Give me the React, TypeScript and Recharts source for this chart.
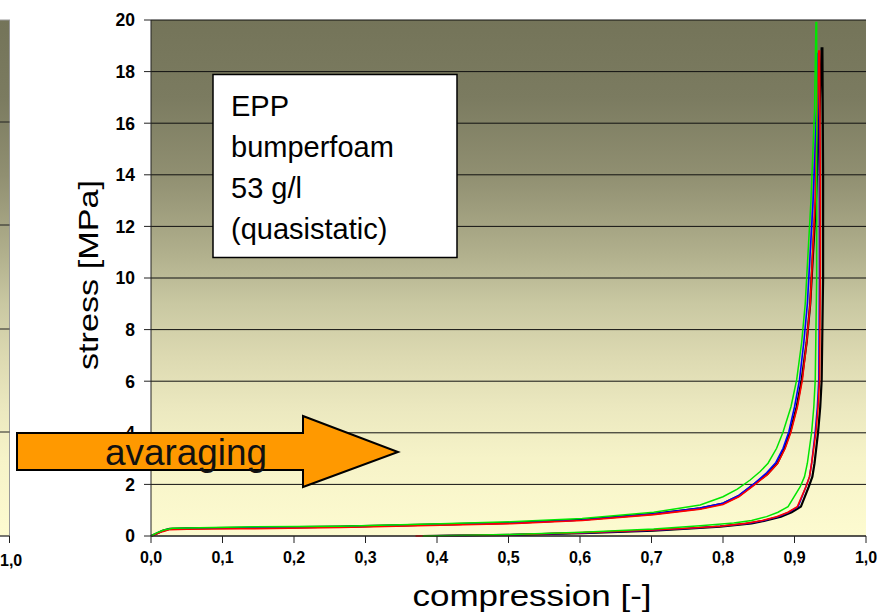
import React from "react";
import { LineChart, Line, XAxis, YAxis, CartesianGrid } from "recharts";

// compression [-], stress [MPa], loading branch then unloading branch
const blackLoop: [number, number][] = [
  [0, 0], [0.008, 0.1], [0.016, 0.2], [0.026, 0.28], [0.05, 0.3], [0.126, 0.32], [0.265, 0.36],
  [0.405, 0.45], [0.503, 0.51], [0.603, 0.63], [0.703, 0.86], [0.768, 1.07], [0.8, 1.26],
  [0.822, 1.55], [0.845, 2.04], [0.862, 2.4], [0.876, 2.82], [0.886, 3.4], [0.894, 4.03],
  [0.903, 5.0], [0.91, 6.05], [0.917, 7.5], [0.922, 9], [0.93, 13], [0.935, 16.5], [0.938, 18.9],
  [0.939, 18.9], [0.94, 14], [0.94, 10], [0.938, 6.05], [0.936, 5.0], [0.933, 4.03], [0.928, 2.82],
  [0.925, 2.3], [0.92, 1.91], [0.909, 1.14], [0.896, 0.92], [0.881, 0.75], [0.86, 0.6],
  [0.84, 0.49], [0.796, 0.36], [0.75, 0.28], [0.703, 0.21], [0.603, 0.11], [0.503, 0.04],
  [0.4, 0.01], [0.38, 0],
];
const redLoop: [number, number][] = [
  [0, 0], [0.008, 0.09], [0.016, 0.17], [0.025, 0.24], [0.05, 0.26], [0.126, 0.28], [0.265, 0.33],
  [0.405, 0.42], [0.503, 0.48], [0.603, 0.6], [0.703, 0.83], [0.768, 1.04], [0.8, 1.22],
  [0.822, 1.52], [0.845, 2.0], [0.862, 2.38], [0.876, 2.8], [0.887, 3.4], [0.895, 4.03],
  [0.904, 5.0], [0.911, 6.05], [0.917, 7.5], [0.922, 9], [0.929, 13], [0.932, 16.5], [0.934, 18.8],
  [0.935, 18.8], [0.936, 14], [0.936, 10], [0.935, 6.05], [0.933, 5.0], [0.93, 4.03], [0.924, 2.82],
  [0.921, 2.3], [0.916, 1.91], [0.904, 1.14], [0.891, 0.92], [0.875, 0.75], [0.855, 0.6],
  [0.832, 0.49], [0.796, 0.38], [0.75, 0.3], [0.703, 0.23], [0.603, 0.13], [0.503, 0.05],
  [0.4, 0.01], [0.37, 0],
];
const blueLoop: [number, number][] = [
  [0, 0], [0.008, 0.1], [0.016, 0.19], [0.026, 0.27], [0.05, 0.29], [0.126, 0.31], [0.265, 0.35],
  [0.405, 0.44], [0.503, 0.5], [0.603, 0.62], [0.703, 0.86], [0.768, 1.08], [0.8, 1.27],
  [0.822, 1.57], [0.845, 2.06], [0.861, 2.45], [0.874, 2.85], [0.884, 3.4], [0.892, 4.03],
  [0.9, 5.0], [0.907, 6.05], [0.913, 7.5], [0.918, 9], [0.926, 13], [0.931, 16.5], [0.933, 18.7],
  [0.934, 18.7], [0.935, 14], [0.935, 10], [0.934, 6.05], [0.932, 5.0], [0.929, 4.03], [0.924, 2.82],
  [0.921, 2.3], [0.916, 1.91], [0.905, 1.14], [0.892, 0.92], [0.877, 0.75], [0.857, 0.6],
  [0.835, 0.49], [0.796, 0.38], [0.75, 0.29], [0.703, 0.22], [0.603, 0.12], [0.503, 0.05],
  [0.4, 0.01], [0.38, 0],
];
const greenLoop: [number, number][] = [
  [0, 0], [0.008, 0.12], [0.018, 0.23], [0.03, 0.3], [0.126, 0.35], [0.265, 0.38], [0.405, 0.47],
  [0.503, 0.55], [0.603, 0.68], [0.703, 0.92], [0.768, 1.2], [0.8, 1.52], [0.82, 1.82],
  [0.838, 2.17], [0.852, 2.5], [0.863, 2.82], [0.875, 3.4], [0.884, 4.03], [0.895, 5.0],
  [0.903, 6.05], [0.91, 7.5], [0.915, 9], [0.923, 13], [0.928, 16.5], [0.93, 19.9],
  [0.931, 19.9], [0.931, 14], [0.931, 10], [0.929, 6.05], [0.927, 5.0], [0.924, 4.03], [0.918, 2.82],
  [0.914, 2.3], [0.908, 1.91], [0.891, 1.14], [0.877, 0.92], [0.861, 0.75], [0.84, 0.6],
  [0.815, 0.5], [0.768, 0.4], [0.703, 0.27], [0.603, 0.15], [0.503, 0.06], [0.4, 0.01], [0.38, 0],
];

const xTicks = [0, 0.1, 0.2, 0.3, 0.4, 0.5, 0.6, 0.7, 0.8, 0.9, 1.0];
const yTicks = [0, 2, 4, 6, 8, 10, 12, 14, 16, 18, 20];
const leftPanelGridY = [122, 225, 329, 432];
const boxLines = ["EPP", "bumperfoam", "53 g/l", "(quasistatic)"];

const toPoints = (loop: [number, number][]) => loop.map(([x, y]) => ({ x, y }));

const FONT = "Liberation Sans, Arial, sans-serif";
const fmt = (v: number) => v.toFixed(1).replace(".", ",");

const XTick = (props: any) => (
  <text x={props.x} y={props.y} dy="0.71em" textAnchor="middle" fontSize={16} fontWeight={700} fontFamily={FONT} fill="#000">
    {fmt(props.payload.value)}
  </text>
);

const YTick = (props: any) => (
  <text x={props.x} y={props.y} dy="0.36em" textAnchor="end" fontSize={17.5} fontWeight={700} fontFamily={FONT} fill="#000">
    {props.payload.value}
  </text>
);

const YTitle = () => (
  <text
    transform="translate(98,275) rotate(-90)"
    textAnchor="middle"
    fontSize={28}
    fontFamily={FONT}
    textLength={190}
    lengthAdjust="spacingAndGlyphs"
    fill="#000"
  >
    stress [MPa]
  </text>
);

const XTitle = () => (
  <text
    x={532}
    y={606}
    textAnchor="middle"
    fontSize={30}
    fontFamily={FONT}
    textLength={239}
    lengthAdjust="spacingAndGlyphs"
    fill="#000"
  >
    compression [-]
  </text>
);

const gradientStops = (
  <>
    <stop offset="0%" stopColor="#747459" />
    <stop offset="15%" stopColor="#7b7b60" />
    <stop offset="30%" stopColor="#908f71" />
    <stop offset="45%" stopColor="#b0af8c" />
    <stop offset="55%" stopColor="#c9c8a2" />
    <stop offset="65%" stopColor="#dcd9b1" />
    <stop offset="75%" stopColor="#ebe8bf" />
    <stop offset="85%" stopColor="#f6f3c8" />
    <stop offset="100%" stopColor="#fdfbd0" />
  </>
);

export default function App() {
  return (
    <div style={{ position: "absolute", left: 0, top: 0, width: 886, height: 616, overflow: "hidden", background: "#fff" }}>
      {/* cut-off edge of the neighbouring chart on the left */}
      <svg width={40} height={616} style={{ position: "absolute", left: 0, top: 0 }}>
        <defs>
          <linearGradient id="leftBg" x1="0" y1="0" x2="0" y2="1">
            {gradientStops}
          </linearGradient>
        </defs>
        <rect x={-1} y={20} width={10.5} height={516} fill="url(#leftBg)" stroke="#999" strokeWidth={1} />
        {leftPanelGridY.map((y) => (
          <line key={y} x1={0} x2={9.5} y1={y} y2={y} stroke="#222" strokeWidth={1} />
        ))}
        <line x1={0} x2={9.5} y1={536} y2={536} stroke="#222" strokeWidth={1} />
        <line x1={9.5} x2={9.5} y1={536} y2={543} stroke="#222" strokeWidth={1} />
        <text x={0} y={566} textAnchor="start" fontSize={16} fontWeight={700} fontFamily={FONT} fill="#000">
          1,0
        </text>
      </svg>

      <div style={{ position: "absolute", left: 0, top: 0 }}>
        <LineChart width={886} height={616} margin={{ top: 20, right: 20, left: 0, bottom: 0 }}>
          <defs>
            <linearGradient id="plotBg" x1="0" y1="0" x2="0" y2="1">
              {gradientStops}
            </linearGradient>
          </defs>
          <CartesianGrid vertical={false} stroke="#111" fill="url(#plotBg)" />
          <XAxis
            type="number"
            dataKey="x"
            domain={[0, 1]}
            ticks={xTicks}
            tick={<XTick />}
            tickSize={7}
            tickMargin={9}
            height={80}
            stroke="#222"
            label={<XTitle />}
          />
          <XAxis xAxisId="top" orientation="top" type="number" domain={[0, 1]} height={0} tick={false} tickLine={false} stroke="#999" />
          <YAxis
            type="number"
            dataKey="y"
            domain={[0, 20]}
            ticks={yTicks}
            tick={<YTick />}
            tickSize={7}
            tickMargin={9}
            width={151}
            stroke="#222"
            label={<YTitle />}
          />
          <YAxis yAxisId="right" orientation="right" type="number" domain={[0, 20]} width={0} tick={false} tickLine={false} stroke="#999" />
          <Line data={toPoints(blackLoop)} dataKey="y" type="linear" stroke="#000" strokeWidth={2.2} dot={false} isAnimationActive={false} />
          <Line data={toPoints(blueLoop)} dataKey="y" type="linear" stroke="#0000ff" strokeWidth={1.6} dot={false} isAnimationActive={false} />
          <Line data={toPoints(redLoop)} dataKey="y" type="linear" stroke="#ff0000" strokeWidth={1.6} dot={false} isAnimationActive={false} />
          <Line data={toPoints(greenLoop)} dataKey="y" type="linear" stroke="#00e600" strokeWidth={1.5} dot={false} isAnimationActive={false} />
        </LineChart>
      </div>

      {/* annotations: text box and arrow */}
      <svg width={886} height={616} style={{ position: "absolute", left: 0, top: 0, pointerEvents: "none" }}>
        <rect x={213} y={74.5} width={244} height={183} fill="#fff" stroke="#000" strokeWidth={1.5} />
        {boxLines.map((t, i) => (
          <text key={t} x={231} y={116 + i * 41} fontSize={29} fontFamily={FONT} fill="#000">
            {t}
          </text>
        ))}
        <polygon
          points="17,433 303,433 303,416 398,452 303,487 303,470 17,470"
          fill="#ff9900"
          stroke="#000"
          strokeWidth={2}
        />
        <text x={105} y={465} fontSize={37} fontFamily={FONT} textLength={162} lengthAdjust="spacingAndGlyphs" fill="#111">
          avaraging
        </text>
      </svg>
    </div>
  );
}
